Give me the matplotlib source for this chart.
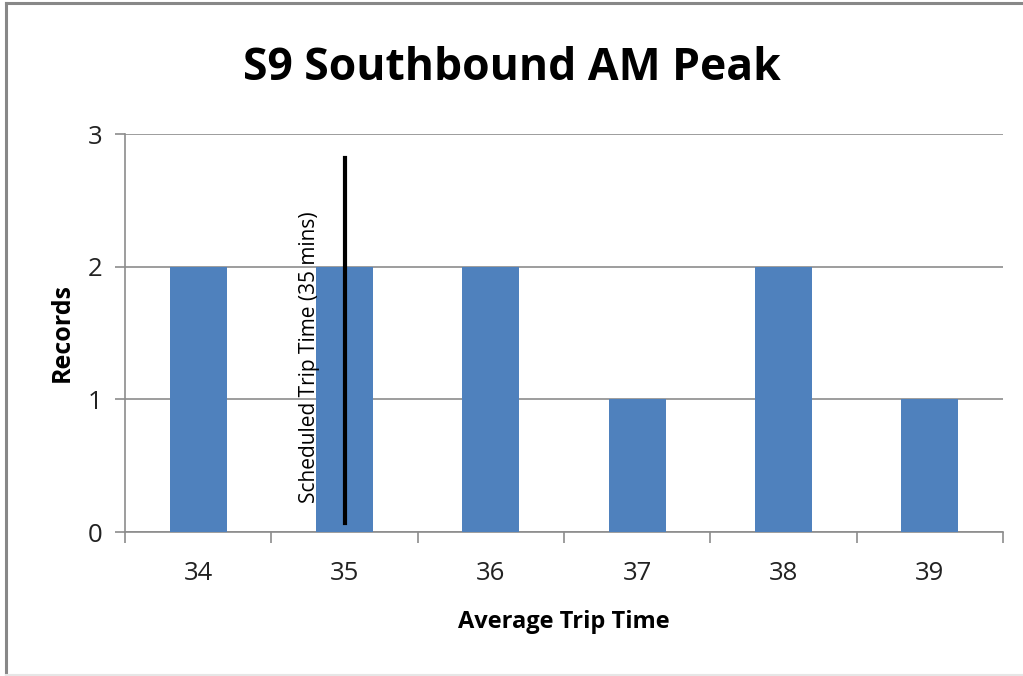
import matplotlib
matplotlib.use("Agg")
import matplotlib.pyplot as plt
from matplotlib.lines import Line2D

plt.rcParams['font.family'] = ['Open Sans', 'DejaVu Sans']

trip_times = [34, 35, 36, 37, 38, 39]
records = [2, 2, 2, 1, 2, 1]
scheduled = 35
sched_line = (0.07, 2.82)
title = "S9 Southbound AM Peak"

bar_color = '#4F81BD'
grid_color = '#8C8C8C'

fig = plt.figure(figsize=(10.23, 6.76), dpi=100)
ax = fig.add_axes([125 / 1023, 144 / 676, 878 / 1023, 398 / 676])

x = list(range(len(trip_times)))
ax.bar(x, records, width=0.39, color=bar_color, zorder=3)

ax.set_xlim(-0.5, len(trip_times) - 0.5)
ax.set_ylim(0, 3)
ax.set_yticks([0, 1, 2, 3])
ax.yaxis.grid(True, color=grid_color, linewidth=1.2, zorder=0)

ax.set_xticks(x)
ax.set_xticklabels([str(t) for t in trip_times])
ax.set_xticks([i - 0.5 for i in range(len(trip_times) + 1)], minor=True)
ax.tick_params(axis='x', which='major', length=0, pad=21, labelsize=18.5, labelcolor='#222222')
ax.tick_params(axis='x', which='minor', length=8, width=1.2, color=grid_color, direction='out')
ax.tick_params(axis='y', length=7, width=1.2, color=grid_color, pad=9, labelsize=18.5, labelcolor='#222222')

for side in ('top', 'right'):
    ax.spines[side].set_visible(False)
for side in ('left', 'bottom'):
    ax.spines[side].set_color(grid_color)
    ax.spines[side].set_linewidth(1.2)

# scheduled trip time marker
sx = trip_times.index(scheduled)
ax.plot([sx, sx], sched_line, color='black', linewidth=3, zorder=4)
ax.text(sx - 0.237, 0.22, f"Scheduled Trip Time ({scheduled} mins)", rotation=90,
        ha='center', va='bottom', fontsize=15, zorder=5)

ax.set_xlabel("Average Trip Time", fontsize=17, fontweight='bold')
ax.xaxis.set_label_coords(0.5, -0.226)
ax.xaxis.label.set_va('center')
ax.set_ylabel("Records", fontsize=18, fontweight='bold')
ax.yaxis.set_label_coords(-0.0718, 0.5)
ax.yaxis.label.set_va('center')
fig.text(0.5005, 0.899, title, ha='center', va='center', fontsize=32, fontweight='bold')

# outer chart border: dark top/left, faint bottom
fig.add_artist(Line2D([0.006, 1.0], [0.9955, 0.9955], transform=fig.transFigure,
                      color='#888888', linewidth=2.2))
fig.add_artist(Line2D([0.006, 0.006], [0.0, 0.9955], transform=fig.transFigure,
                      color='#888888', linewidth=2.2))
fig.add_artist(Line2D([0.006, 1.0], [0.0015, 0.0015], transform=fig.transFigure,
                      color='#E6E6E6', linewidth=1.5))

fig.savefig("out.png", dpi=100)
